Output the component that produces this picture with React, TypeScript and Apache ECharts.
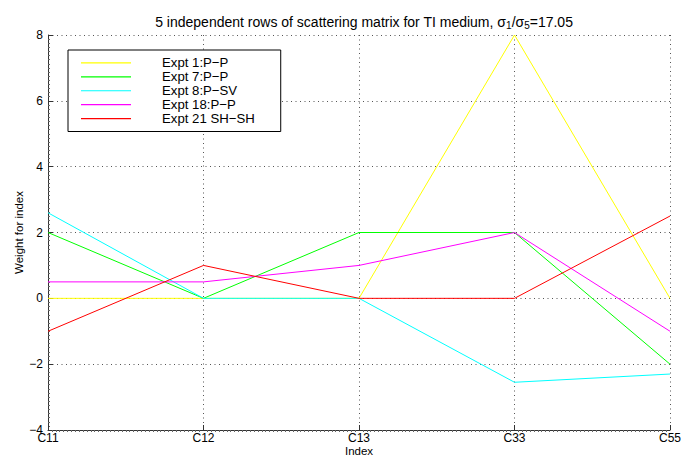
import React, { useEffect, useRef } from "react";
import * as echarts from "echarts";

const categories = ["C11", "C12", "C13", "C33", "C55"];
const seriesNames = ["Expt 1:P−P", "Expt 7:P−P", "Expt 8:P−SV", "Expt 18:P−P", "Expt 21 SH−SH"];
const expt1 = [0, 0, 0, 8, 0];
const expt7 = [2, 0, 2, 2, -2];
const expt8 = [2.6, 0, 0, -2.55, -2.3];
const expt18 = [0.5, 0.5, 1, 2, -1];
const expt21 = [-1, 1, 0, 0, 2.5];
const seriesValues = [expt1, expt7, expt8, expt18, expt21];
const seriesColors = ["#ffff00", "#00ff00", "#00ffff", "#ff00ff", "#ff0000"];

const FONT = "'Liberation Sans', Arial, Helvetica, sans-serif";
const GRID_LINE = { color: "#555", type: [1, 3.5], width: 1 };

export default function App() {
  const ref = useRef<HTMLDivElement>(null);
  useEffect(() => {
    if (!ref.current) return;
    const chart = echarts.init(ref.current, undefined, { renderer: "svg" });
    const option: any = {
      animation: false,
      backgroundColor: "#ffffff",
      textStyle: { fontFamily: FONT },
      title: {
        text: "5 independent rows of scattering matrix for TI medium, σ{sub|1}/σ{sub|5}=17.05",
        left: 359,
        top: 8,
        textAlign: "center",
        textStyle: {
          fontSize: 14,
          fontWeight: "normal",
          color: "#000",
          fontFamily: FONT,
          rich: {
            sub: { fontSize: 10, verticalAlign: "bottom", padding: [7, 0, 0, 0], fontFamily: FONT, color: "#000" },
          },
        },
      },
      legend: {
        orient: "vertical",
        left: 68,
        top: 50,
        icon: "rect",
        itemWidth: 50,
        itemHeight: 1.2,
        itemGap: 0,
        padding: [6, 26, 6, 13],
        borderColor: "#000",
        borderWidth: 1,
        backgroundColor: "#fff",
        textStyle: { fontSize: 13.2, lineHeight: 13.9, color: "#000", fontFamily: FONT, padding: [0, 0, 0, 26] },
        data: seriesNames,
      },
      grid: { left: 48, right: 13, top: 35, bottom: 26, containLabel: false, outerBoundsMode: "none" },
      xAxis: [
        {
          type: "category",
          data: categories,
          boundaryGap: false,
          name: "Index",
          nameLocation: "middle",
          nameGap: 15,
          nameMoveOverlap: false,
          nameTextStyle: { fontSize: 11.5, lineHeight: 11.5, color: "#000", fontFamily: FONT, verticalAlign: "top" },
          axisLine: { onZero: false, lineStyle: { color: "#333", width: 1 } },
          axisTick: { inside: true, length: 5, lineStyle: { color: "#333" } },
          axisLabel: { fontSize: 12, lineHeight: 12, color: "#000", margin: 2, fontFamily: FONT },
          splitLine: { show: true, lineStyle: GRID_LINE },
        },
        {
          type: "value",
          min: 0,
          max: 4,
          interval: 1,
          position: "bottom",
          axisLine: { show: false, onZero: false },
          axisLabel: { show: false },
          axisTick: { show: false },
          splitLine: { show: false },
          minorTick: { show: true, splitNumber: 40, length: 2, lineStyle: { color: "#666" } },
        },
      ],
      yAxis: {
        type: "value",
        min: -4,
        max: 8,
        interval: 2,
        name: "Weight for index",
        nameLocation: "middle",
        nameGap: 23.5,
        nameMoveOverlap: false,
        nameTextStyle: { fontSize: 11.5, color: "#000", fontFamily: FONT },
        axisLine: { show: true, onZero: false, lineStyle: { color: "#333", width: 1 } },
        axisTick: { show: true, inside: true, length: 5, lineStyle: { color: "#333" } },
        minorTick: { show: true, splitNumber: 16, length: 2, lineStyle: { color: "#666" } },
        axisLabel: {
          fontSize: 12,
          color: "#000",
          margin: 5,
          fontFamily: FONT,
          formatter: (v: number) => String(v).replace("-", "−"),
        },
        splitLine: { show: true, lineStyle: GRID_LINE },
      },
      series: seriesNames.map((name, i) => ({
        name,
        type: "line",
        xAxisIndex: 0,
        data: seriesValues[i],
        symbol: "none",
        showSymbol: false,
        lineStyle: { color: seriesColors[i], width: 1 },
        itemStyle: { color: seriesColors[i] },
      })),
    };
    chart.setOption(option);
    return () => chart.dispose();
  }, []);
  return <div ref={ref} style={{ position: "fixed", left: 0, top: 0, width: 683, height: 456 }} />;
}
